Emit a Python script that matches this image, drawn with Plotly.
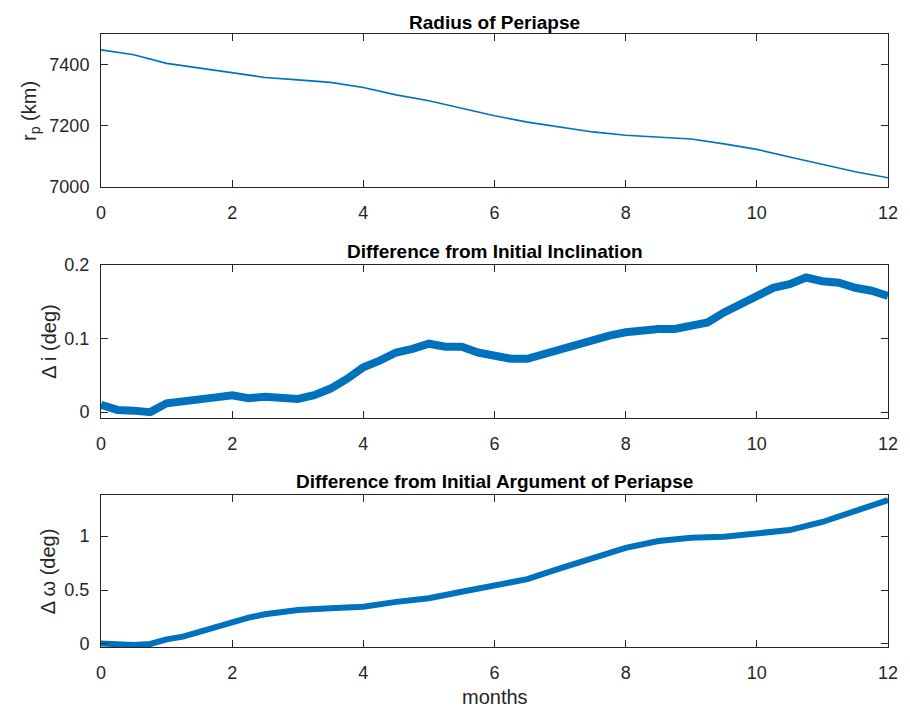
import plotly.graph_objects as go
from plotly.subplots import make_subplots

# ---- data ----
months_rp = [0, 0.5, 1, 1.5, 2, 2.5, 3, 3.5, 4, 4.5, 5, 5.5, 6, 6.5, 7, 7.5,
             8, 8.5, 9, 9.5, 10, 10.5, 11, 11.5, 12]
rp_km = [7448, 7432, 7404, 7388, 7372, 7358, 7350, 7342, 7325, 7301, 7282, 7258,
         7233, 7212, 7195, 7180, 7169, 7163, 7157, 7141, 7123, 7098, 7074, 7050, 7030]

months_di = [0, 0.25, 0.5, 0.75, 1, 1.25, 1.5, 1.75, 2, 2.25, 2.5, 2.75, 3, 3.25,
             3.5, 3.75, 4, 4.25, 4.5, 4.75, 5, 5.25, 5.5, 5.75, 6, 6.25, 6.5, 6.75,
             7, 7.25, 7.5, 7.75, 8, 8.25, 8.5, 8.75, 9, 9.25, 9.5, 9.75, 10, 10.25,
             10.5, 10.75, 11, 11.25, 11.5, 11.75, 12]
di_deg = [0.010, 0.003, 0.002, 0.000, 0.012, 0.014, 0.018, 0.020, 0.023, 0.019,
          0.021, 0.020, 0.018, 0.023, 0.032, 0.045, 0.061, 0.070, 0.081, 0.086,
          0.093, 0.089, 0.089, 0.081, 0.077, 0.0725, 0.0725, 0.079, 0.084, 0.0905,
          0.097, 0.104, 0.1085, 0.111, 0.113, 0.113, 0.1175, 0.122, 0.1355, 0.147,
          0.160, 0.169, 0.174, 0.183, 0.178, 0.176, 0.169, 0.165, 0.158]

months_dw = [0, 0.25, 0.5, 0.75, 1, 1.25, 1.5, 1.75, 2, 2.25, 2.5, 2.75, 3, 3.5, 4,
             4.5, 5, 5.5, 6, 6.5, 7, 7.5, 7.75, 8, 8.5, 9, 9.5, 10, 10.5, 11, 11.5, 12]
dw_deg = [0.005, -0.005, -0.010, 0.000, 0.043, 0.068, 0.114, 0.160, 0.207, 0.244,
          0.275, 0.300, 0.315, 0.330, 0.345, 0.390, 0.423, 0.484, 0.540, 0.600,
          0.700, 0.794, 0.840, 0.890, 0.954, 0.984, 0.994, 1.020, 1.055, 1.130,
          1.225, 1.333]

x_ticks = [0, 2, 4, 6, 8, 10, 12]
titles = ["Radius of Periapse", "Difference from Initial Inclination",
          "Difference from Initial Argument of Periapse"]
ylabels = ["r<sub>p</sub> (km)", "Δ i (deg)", "Δ ω (deg)"]
xlabel = "months"

BLUE = "#0072BD"
AX = "#262626"
FONT = "Liberation Sans, Arial, Helvetica, sans-serif"

fig = make_subplots(rows=3, cols=1)
fig.add_trace(go.Scatter(x=months_rp, y=rp_km, mode="lines",
                         line=dict(color=BLUE, width=1.6)), row=1, col=1)
fig.add_trace(go.Scatter(x=months_di, y=di_deg, mode="lines",
                         line=dict(color=BLUE, width=8)), row=2, col=1)
fig.add_trace(go.Scatter(x=months_dw, y=dw_deg, mode="lines",
                         line=dict(color=BLUE, width=6)), row=3, col=1)

# pixel layout helpers
L, R, T, B = 101, 17, 34, 65
W, H = 910, 712
PH = H - T - B  # plot height
PW = W - L - R


def py(p):
    return (H - B - p) / PH


def px(p):
    return (p - L) / PW


ydomains = [[py(187), py(34)], [py(418), py(265)], [py(647), py(495)]]
yranges = [[7000, 7500], [-0.008, 0.2], [-0.028, 1.38]]
ydticks = [200, 0.1, 0.5]

axis_common = dict(showline=True, linecolor=AX, linewidth=1, mirror="ticks",
                   ticks="inside", ticklen=7, tickcolor=AX, showgrid=False,
                   zeroline=False, tickfont=dict(size=18, color=AX, family=FONT))

layout = dict(width=W, height=H, margin=dict(l=L, r=R, t=T, b=B),
              paper_bgcolor="white", plot_bgcolor="white", showlegend=False,
              font=dict(family=FONT, color=AX))
for i in range(3):
    sfx = "" if i == 0 else str(i + 1)
    layout["xaxis" + sfx] = dict(axis_common, range=[0, 12], tickvals=x_ticks,
                                 domain=[0, 1], ticklabelstandoff=9)
    layout["yaxis" + sfx] = dict(axis_common, range=yranges[i], dtick=ydticks[i],
                                 tick0=0, domain=ydomains[i], ticklabelstandoff=7)
fig.update_layout(**layout)

ann = []
title_centers = [22, 252, 482]
for i in range(3):
    ann.append(dict(text="<b>" + titles[i] + "</b>", xref="paper", yref="paper",
                    x=0.5, y=py(title_centers[i]), xanchor="center", yanchor="middle",
                    showarrow=False, font=dict(size=19, color="black", family=FONT)))
ylab_x = [30, 48, 48]
ylab_y = [110.5, 341.5, 571]
for i in range(3):
    ann.append(dict(text=ylabels[i], xref="paper", yref="paper",
                    x=px(ylab_x[i]), y=py(ylab_y[i]), xanchor="center", yanchor="middle",
                    textangle=-90, showarrow=False,
                    font=dict(size=20, color=AX, family=FONT)))
ann.append(dict(text=xlabel, xref="paper", yref="paper", x=0.5, y=py(697),
                xanchor="center", yanchor="middle", showarrow=False,
                font=dict(size=20, color=AX, family=FONT)))
fig.update_layout(annotations=ann)

fig.write_html("out.html")
